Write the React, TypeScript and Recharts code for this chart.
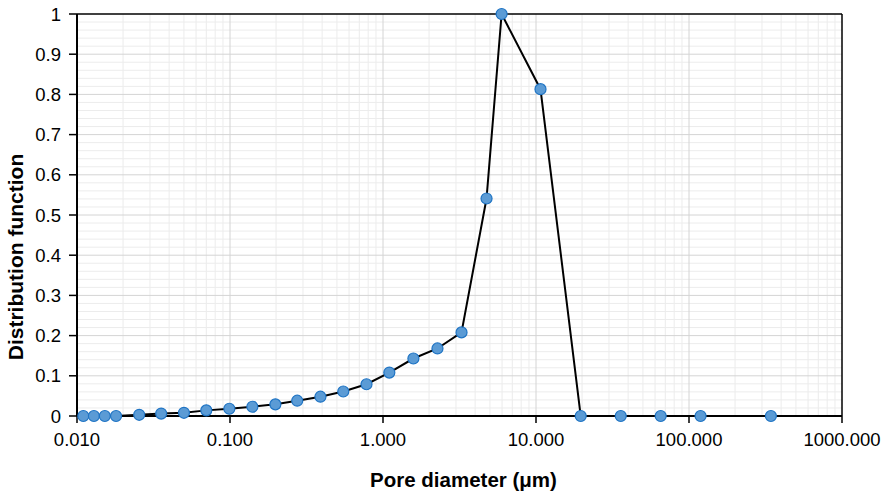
import { LineChart, Line, XAxis, YAxis, ReferenceLine } from 'recharts';

const diameters = [
  0.011, 0.0129, 0.0152, 0.018, 0.0255, 0.0355, 0.05, 0.07, 0.099, 0.14, 0.198, 0.275, 0.39, 0.55,
  0.78, 1.1, 1.58, 2.27, 3.26, 4.75, 5.96, 10.7, 19.6, 35.8, 65.3, 119, 343,
];
const distribution = [
  0, 0, 0, 0, 0.003, 0.006, 0.008, 0.014, 0.018, 0.023, 0.029, 0.038, 0.048, 0.061,
  0.079, 0.108, 0.143, 0.168, 0.208, 0.541, 1, 0.813, 0, 0, 0, 0, 0,
];

const xTicks = [0.01, 0.1, 1, 10, 100, 1000];
const yTicks = [0, 0.1, 0.2, 0.3, 0.4, 0.5, 0.6, 0.7, 0.8, 0.9, 1];
const xMinor = [2, 3, 4, 5, 6, 7, 8, 9];
const yMinor = [0.02, 0.04, 0.06, 0.08];

const data = diameters.map((d, i) => ({ d, f: distribution[i] }));

const font = '"Liberation Sans", Arial, sans-serif';

// grid lines through the axis scales
const xMinorLines = xTicks.slice(0, -1).flatMap((t) => xMinor.map((m) => Number((m * t).toPrecision(3))));
const yMinorLines = yTicks.slice(0, -1).flatMap((t) => yMinor.map((m) => Number((t + m).toFixed(2))));

export default function App() {
  return (
    <div style={{ position: 'absolute', left: 0, top: 0, width: 887, height: 493, background: '#fff' }}>
      <LineChart width={887} height={493} data={data} margin={{ top: 14, right: 45, left: 0, bottom: 0 }}>
        {xMinorLines.map((v) => (
          <ReferenceLine key={'xm' + v} x={v} stroke="#ececec" strokeWidth={1} />
        ))}
        {yMinorLines.map((v) => (
          <ReferenceLine key={'ym' + v} y={v} stroke="#ececec" strokeWidth={1} />
        ))}
        {xTicks.slice(1, -1).map((v) => (
          <ReferenceLine key={'xM' + v} x={v} stroke="#d4d4d4" strokeWidth={1} />
        ))}
        {yTicks.slice(1, -1).map((v) => (
          <ReferenceLine key={'yM' + v} y={v} stroke="#d4d4d4" strokeWidth={1} />
        ))}
        <ReferenceLine y={1} stroke="#000" strokeWidth={1.5} />
        <ReferenceLine x={1000} stroke="#000" strokeWidth={1.5} />
        <XAxis
          dataKey="d"
          type="number"
          scale="log"
          domain={[0.01, 1000]}
          ticks={xTicks}
          allowDataOverflow
          height={77}
          axisLine={{ stroke: '#000', strokeWidth: 2 }}
          tickLine={{ stroke: '#000', strokeWidth: 1.5 }}
          tickSize={7}
          tickMargin={10}
          tickFormatter={(v: number) => v.toFixed(3)}
          tick={{ fill: '#000', fontSize: 18.5, fontFamily: font }}
          label={({ viewBox }: any) => (
            <text
              x={viewBox.x + viewBox.width / 2 + 4}
              y={487}
              textAnchor="middle"
              fontFamily={font}
              fontSize={20.5}
              fontWeight="bold"
              fill="#000"
            >
              Pore diameter (μm)
            </text>
          )}
        />
        <YAxis
          type="number"
          domain={[0, 1]}
          ticks={yTicks}
          width={77}
          axisLine={{ stroke: '#000', strokeWidth: 2 }}
          tickLine={{ stroke: '#000', strokeWidth: 1.5 }}
          tickSize={8}
          tickMargin={8}
          tick={{ fill: '#000', fontSize: 18.5, fontFamily: font }}
          label={() => {
            const cx = 15;
            const cy = 257;
            return (
              <text
                x={cx}
                y={cy}
                transform={`rotate(-90 ${cx} ${cy})`}
                textAnchor="middle"
                dominantBaseline="central"
                fontFamily={font}
                fontSize={21}
                fontWeight="bold"
                fill="#000"
              >
                Distribution function
              </text>
            );
          }}
        />
        <Line
          type="linear"
          dataKey="f"
          stroke="#000"
          strokeWidth={2}
          dot={{ r: 5.5, fill: '#5b9bd5', stroke: '#1f74c4', strokeWidth: 1.2 }}
          isAnimationActive={false}
        />
      </LineChart>
    </div>
  );
}
